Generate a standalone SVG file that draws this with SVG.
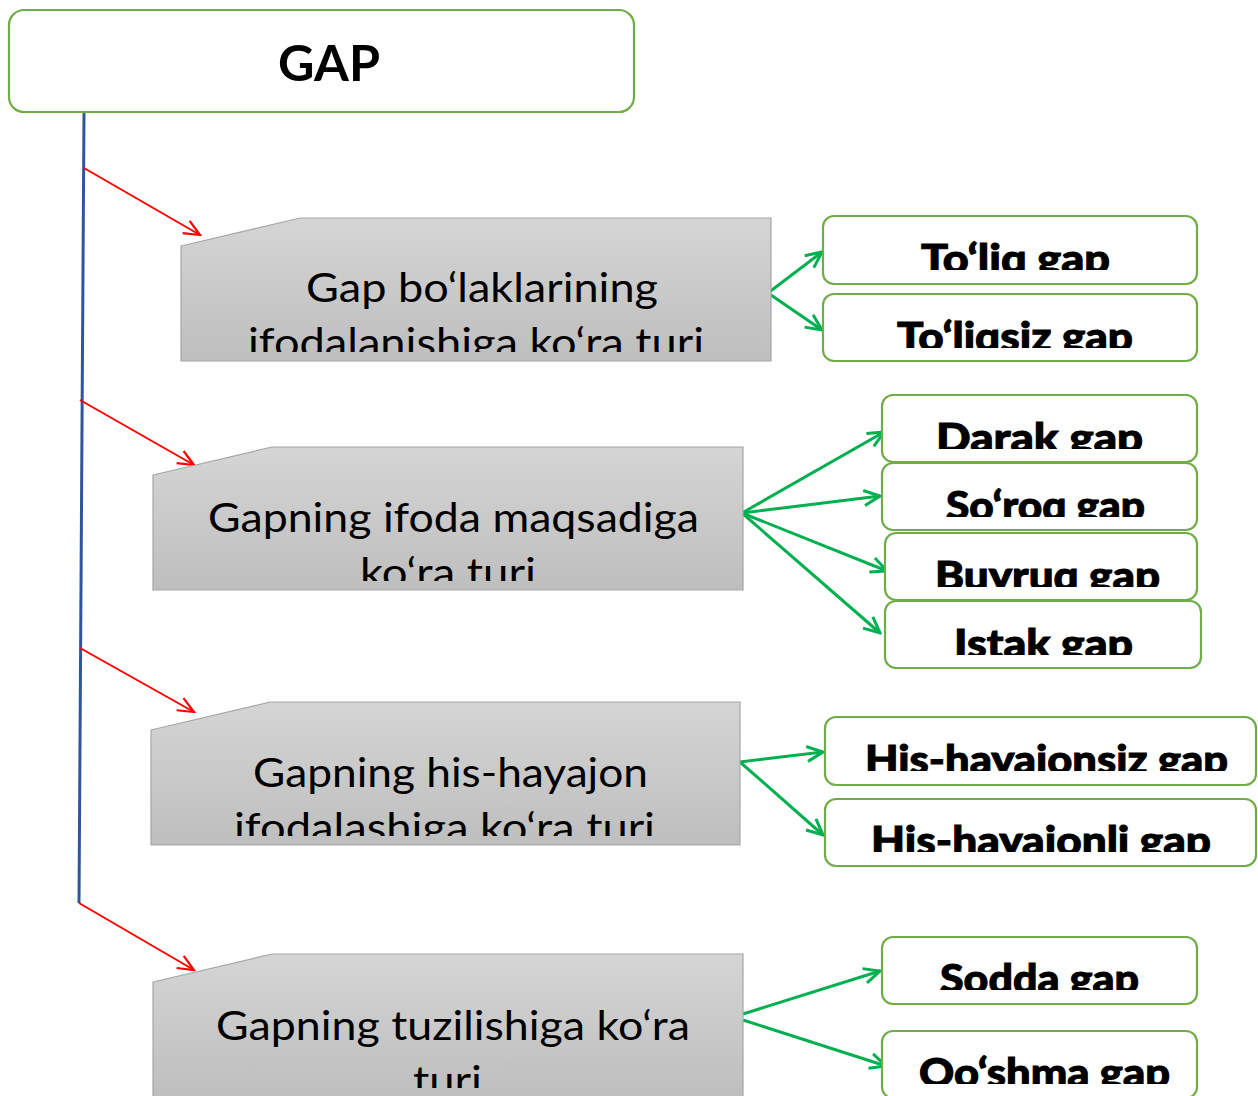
<svg xmlns="http://www.w3.org/2000/svg" width="1258" height="1096" viewBox="0 0 1258 1096">
<style>
.gbox{fill:url(#gr);stroke:#A6A6A6;stroke-width:1.2}
.rbox{fill:#fff;stroke:#70AD47;stroke-width:2.2}
.gt{font-family:Lato,"Open Sans",sans-serif;font-size:41px;fill:#000;text-anchor:middle}
.rt{font-family:Lato,"DejaVu Sans",sans-serif;font-weight:900;font-size:40px;fill:#000;stroke:#000;stroke-width:1;text-anchor:middle}
.red{stroke:#FF0000;stroke-width:2;fill:none;marker-end:url(#ar)}
.grn{stroke:#00B050;stroke-width:3;fill:none;marker-end:url(#ag)}
</style>
<defs>
<linearGradient id="gr" x1="0" y1="0" x2="0" y2="1">
<stop offset="0" stop-color="#D5D5D5"/><stop offset="1" stop-color="#BEBEBE"/>
</linearGradient>
<marker id="ar" viewBox="0 0 20 20" refX="18" refY="10" markerWidth="20" markerHeight="20" orient="auto" markerUnits="userSpaceOnUse">
<path d="M2,3 L18,10 L2,17" fill="none" stroke="#FF0000" stroke-width="2.2"/>
</marker>
<marker id="ag" viewBox="0 0 20 20" refX="18" refY="10" markerWidth="20" markerHeight="20" orient="auto" markerUnits="userSpaceOnUse">
<path d="M2,2.5 L18,10 L2,17.5" fill="none" stroke="#00B050" stroke-width="3"/>
</marker>
<clipPath id="c1"><rect x="181" y="218" width="590" height="134"/></clipPath>
<clipPath id="c2"><rect x="153" y="447" width="590" height="134"/></clipPath>
<clipPath id="c3"><rect x="151" y="702" width="590" height="134"/></clipPath>
<clipPath id="c4"><rect x="153" y="954" width="590" height="134"/></clipPath>
<clipPath id="k1"><rect x="823" y="216" width="374" height="54"/></clipPath>
<clipPath id="k2"><rect x="823" y="294" width="374" height="54"/></clipPath>
<clipPath id="k3"><rect x="882" y="395" width="315" height="54"/></clipPath>
<clipPath id="k4"><rect x="882" y="463" width="315" height="54"/></clipPath>
<clipPath id="k5"><rect x="885" y="533" width="312" height="54"/></clipPath>
<clipPath id="k6"><rect x="885" y="601" width="316" height="54"/></clipPath>
<clipPath id="k7"><rect x="825" y="717" width="431" height="54"/></clipPath>
<clipPath id="k8"><rect x="825" y="799" width="431" height="53"/></clipPath>
<clipPath id="k9"><rect x="882" y="937" width="315" height="53"/></clipPath>
<clipPath id="k10"><rect x="882" y="1031" width="315" height="53"/></clipPath>
</defs>

<g id="connectors">
<path d="M84,112 L79,903" stroke="#2F55A0" stroke-width="3" fill="none"/>
<path class="red" d="M84,168 L200,235"/>
<path class="red" d="M80,400 L194,465"/>
<path class="red" d="M80,648 L194,712"/>
<path class="red" d="M79,903 L194,970"/>
<path class="grn" d="M768,293 L822,252"/>
<path class="grn" d="M768,293 L822,330"/>
<path class="grn" d="M742,513 L884,432"/>
<path class="grn" d="M742,513 L880,496"/>
<path class="grn" d="M742,513 L887,571"/>
<path class="grn" d="M742,513 L880,633"/>
<path class="grn" d="M740,762 L823,752"/>
<path class="grn" d="M740,762 L823,835"/>
<path class="grn" d="M743,1014 L880,971"/>
<path class="grn" d="M743,1020 L886,1066"/>
</g>

<g id="gap">
<rect x="9" y="10" width="625" height="102" rx="15" fill="#fff" stroke="#70AD47" stroke-width="2.2"/>
<text x="329" y="81" font-family="Lato,'Open Sans',sans-serif" font-weight="700" font-size="50" text-anchor="middle" textLength="102" lengthAdjust="spacingAndGlyphs">GAP</text>
</g>

<g id="b1">
<path class="gbox" d="M181,246 L300,218 L771,218 L771,361 L181,361 Z"/>
<g clip-path="url(#c1)">
<text class="gt" x="482" y="302" textLength="352" lengthAdjust="spacingAndGlyphs">Gap bo‘laklarining</text>
<text class="gt" x="476" y="357" textLength="456" lengthAdjust="spacingAndGlyphs">ifodalanishiga ko‘ra turi</text>
</g>
</g>
<g id="b2">
<path class="gbox" d="M153,475 L272,447 L743,447 L743,590 L153,590 Z"/>
<g clip-path="url(#c2)">
<text class="gt" x="453.5" y="532" textLength="491" lengthAdjust="spacingAndGlyphs">Gapning ifoda maqsadiga</text>
<text class="gt" x="448" y="587" textLength="176" lengthAdjust="spacingAndGlyphs">ko‘ra turi</text>
</g>
</g>
<g id="b3">
<path class="gbox" d="M151,730 L270,702 L740,702 L740,845 L151,845 Z"/>
<g clip-path="url(#c3)">
<text class="gt" x="450.5" y="787" textLength="395" lengthAdjust="spacingAndGlyphs">Gapning his-hayajon</text>
<text class="gt" x="444.5" y="842" textLength="421" lengthAdjust="spacingAndGlyphs">ifodalashiga ko‘ra turi</text>
</g>
</g>
<g id="b4">
<path class="gbox" d="M153,982 L272,954 L743,954 L743,1097 L153,1097 Z"/>
<g clip-path="url(#c4)">
<text class="gt" x="453" y="1040" textLength="474" lengthAdjust="spacingAndGlyphs">Gapning tuzilishiga ko‘ra</text>
<text class="gt" x="447.5" y="1095" textLength="69" lengthAdjust="spacingAndGlyphs">turi</text>
</g>
</g>

<g id="r1"><rect class="rbox" x="823" y="216" width="374" height="68" rx="11"/>
<text class="rt" x="1015.5" y="273" clip-path="url(#k1)" textLength="189" lengthAdjust="spacingAndGlyphs">To‘liq gap</text></g>
<g id="r2"><rect class="rbox" x="823" y="294" width="374" height="67" rx="11"/>
<text class="rt" x="1015" y="351" clip-path="url(#k2)" textLength="236" lengthAdjust="spacingAndGlyphs">To‘liqsiz gap</text></g>
<g id="r3"><rect class="rbox" x="882" y="395" width="315" height="67" rx="11"/>
<text class="rt" x="1039.5" y="452" clip-path="url(#k3)" textLength="207" lengthAdjust="spacingAndGlyphs">Darak gap</text></g>
<g id="r4"><rect class="rbox" x="882" y="463" width="315" height="67" rx="11"/>
<text class="rt" x="1045.5" y="520" clip-path="url(#k4)" textLength="199" lengthAdjust="spacingAndGlyphs">So‘roq gap</text></g>
<g id="r5"><rect class="rbox" x="885" y="533" width="312" height="67" rx="11"/>
<text class="rt" x="1047.5" y="590" clip-path="url(#k5)" textLength="225" lengthAdjust="spacingAndGlyphs">Buyruq gap</text></g>
<g id="r6"><rect class="rbox" x="885" y="601" width="316" height="67" rx="11"/>
<text class="rt" x="1043.5" y="658" clip-path="url(#k6)" textLength="179" lengthAdjust="spacingAndGlyphs">Istak gap</text></g>
<g id="r7"><rect class="rbox" x="825" y="717" width="431" height="68" rx="11"/>
<text class="rt" x="1046.5" y="774" clip-path="url(#k7)" textLength="363" lengthAdjust="spacingAndGlyphs">His-hayajonsiz gap</text></g>
<g id="r8"><rect class="rbox" x="825" y="799" width="431" height="67" rx="11"/>
<text class="rt" x="1041" y="855" clip-path="url(#k8)" textLength="340" lengthAdjust="spacingAndGlyphs">His-hayajonli gap</text></g>
<g id="r9"><rect class="rbox" x="882" y="937" width="315" height="67" rx="11"/>
<text class="rt" x="1039.5" y="993" clip-path="url(#k9)" textLength="199" lengthAdjust="spacingAndGlyphs">Sodda gap</text></g>
<g id="r10"><rect class="rbox" x="882" y="1031" width="315" height="67" rx="11"/>
<text class="rt" x="1044.5" y="1087" clip-path="url(#k10)" textLength="251" lengthAdjust="spacingAndGlyphs">Qo‘shma gap</text></g>
</svg>
